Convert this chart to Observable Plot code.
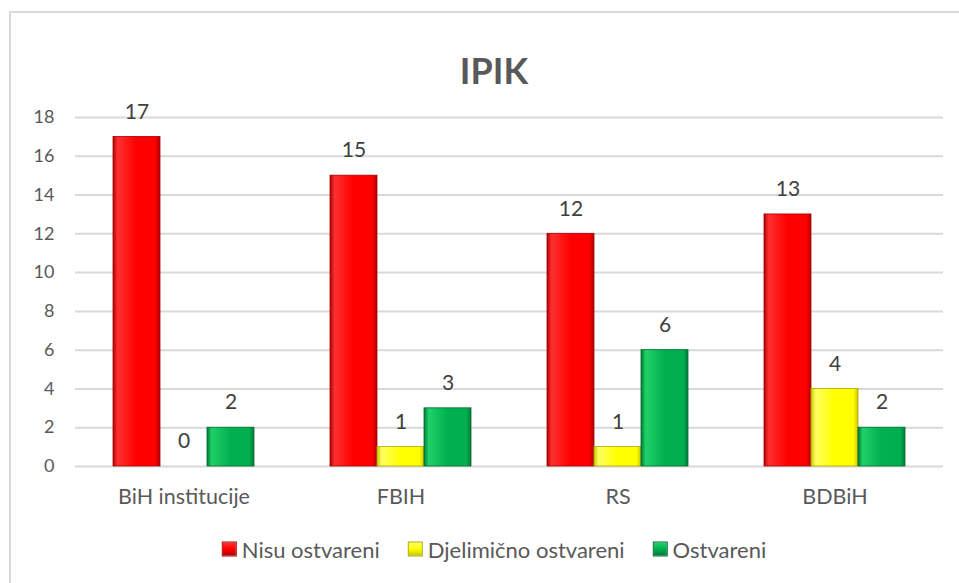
<!DOCTYPE html>
<html>
<head>
<meta charset="utf-8">
<script src="https://cdn.jsdelivr.net/npm/d3@7"></script>
<script src="https://cdn.jsdelivr.net/npm/@observablehq/plot@0.6"></script>
<style>
  html, body { margin: 0; padding: 0; background: #fff; }
  #wrap { position: relative; width: 959px; height: 583px; overflow: hidden; font-family: Lato, "Open Sans", sans-serif; }
  #border { position: absolute; left: 9px; top: 11px; width: 1000px; height: 1000px; border-left: 2px solid #d9d9d9; border-top: 2px solid #d9d9d9; }
  #title { position: absolute; left: 494px; top: 70px; transform: translate(-50%, -50%); font-size: 36px; font-weight: 700; color: #595959; white-space: nowrap; }
  #chart { position: absolute; left: 0; top: 0; }
  #legend { position: absolute; left: 494px; top: 549px; transform: translate(-50%, -50%); display: flex; align-items: center; white-space: nowrap; font-size: 22px; color: #595959; }
  .item { display: flex; align-items: center; margin: 0 14px; }
  .sw { width: 15px; height: 15px; margin-right: 5px; box-sizing: border-box; }
</style>
</head>
<body>
<div id="wrap">
  <div id="border"></div>
  <div id="chart"></div>
  <div id="title">IPIK</div>
  <div id="legend"></div>
</div>
<script>
const categories = ["BiH institucije", "FBIH", "RS", "BDBiH"];
const seriesNames = ["Nisu ostvareni", "Djelimično ostvareni", "Ostvareni"];
const nisuOstvareni = [17, 15, 12, 13];
const djelimicnoOstvareni = [0, 1, 1, 4];
const ostvareni = [2, 3, 6, 2];
const yTicks = [0, 2, 4, 6, 8, 10, 12, 14, 16, 18];

const seriesValues = [nisuOstvareni, djelimicnoOstvareni, ostvareni];
const colors = [
  {base: "#ff0000", light: "#ff3030", dark: "#b00000", edge: "#a80000"},
  {base: "#ffff00", light: "#ffff60", dark: "#c8c800", edge: "#b0a800"},
  {base: "#00b050", light: "#20d068", dark: "#007a36", edge: "#006a2e"}
];

const data = [];
categories.forEach((c, i) => {
  seriesNames.forEach((s, j) => {
    data.push({cat: c, series: s, value: seriesValues[j][i], idx: j});
  });
});

const font = "Lato, 'Open Sans', sans-serif";

const marks = [
  Plot.gridY(yTicks, {stroke: "#d9d9d9", strokeOpacity: 1, strokeWidth: 2}),
  ...seriesNames.map((s, j) =>
    Plot.barY(data.filter(d => d.series === s && d.value > 0), {
      fx: "cat", x: "series", y: "value",
      fill: `url(#grad${j})`, stroke: colors[j].edge, strokeWidth: 0.8
    })
  ),
  Plot.text(data, {
    fx: "cat", x: "series", y: "value", text: d => String(d.value),
    dy: -25, fontSize: 21, fill: "#404040", fontFamily: font
  }),
  Plot.axisY(yTicks, {
    tickSize: 0, tickPadding: 21, fontSize: 18, fill: "#595959",
    fontFamily: font, tickFormat: d => String(d), label: null
  }),
  Plot.axisFx({
    anchor: "bottom", tickSize: 0, tickPadding: 22, fontSize: 21.5,
    fill: "#595959", fontFamily: font, label: null
  })
];

const chart = Plot.plot({
  width: 959,
  height: 583,
  marginTop: 117,
  marginBottom: 117,
  marginLeft: 74,
  marginRight: 16,
  style: {fontFamily: font, background: "transparent", overflow: "visible"},
  fx: {domain: categories, padding: 0, label: null},
  x: {domain: seriesNames, paddingInner: 0, paddingOuter: 0.763, axis: null},
  y: {domain: [0, 18], axis: null},
  marks
});

const svg = d3.select(chart);
const defs = svg.insert("defs", ":first-child");
colors.forEach((c, j) => {
  const g = defs.append("linearGradient").attr("id", `grad${j}`)
    .attr("x1", "0").attr("y1", "0").attr("x2", "1").attr("y2", "0");
  [[0, c.dark], [0.1, c.light], [0.5, c.base], [0.9, c.base], [1, c.dark]].forEach(([o, col]) =>
    g.append("stop").attr("offset", o).attr("stop-color", col));
});

document.getElementById("chart").appendChild(chart);

const legend = document.getElementById("legend");
seriesNames.forEach((s, j) => {
  const it = document.createElement("div");
  it.className = "item";
  const sw = document.createElement("div");
  sw.className = "sw";
  sw.style.background = `linear-gradient(to bottom, ${colors[j].light}, ${colors[j].base} 50%, ${colors[j].dark})`;
  sw.style.border = `1px solid ${colors[j].edge}`;
  const t = document.createElement("span");
  t.textContent = s;
  it.appendChild(sw);
  it.appendChild(t);
  legend.appendChild(it);
});
</script>
</body>
</html>
